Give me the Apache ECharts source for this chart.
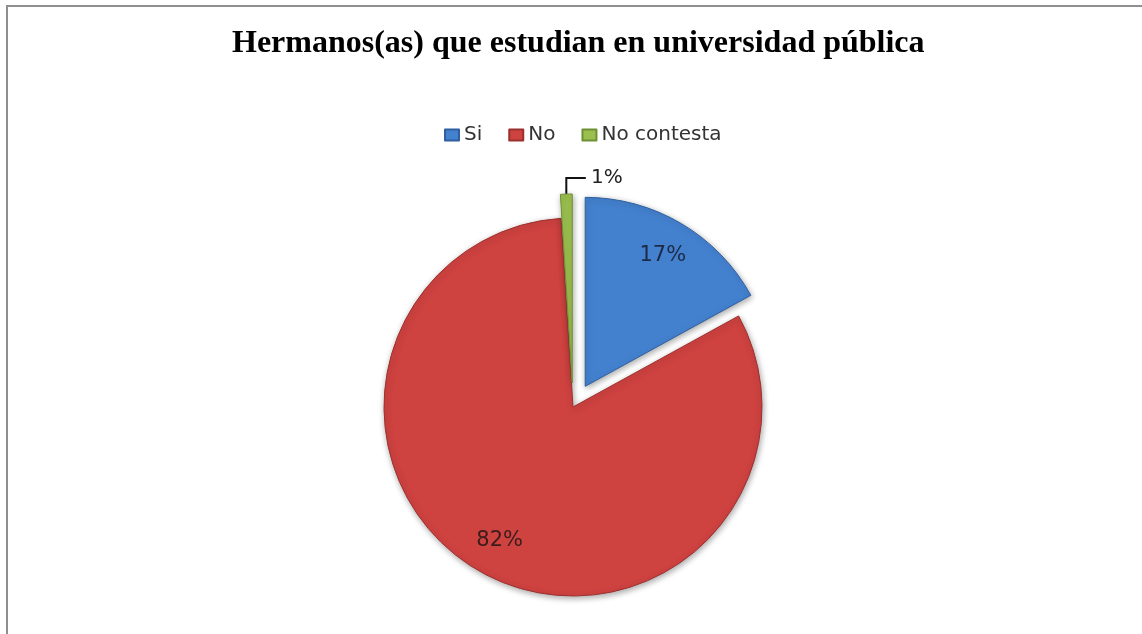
<!DOCTYPE html>
<html><head><meta charset="utf-8">
<script src="https://cdn.jsdelivr.net/npm/echarts@6/dist/echarts.min.js"></script>
<style>
html,body{margin:0;padding:0;background:#fff;}
#frame{position:absolute;left:6px;top:5px;width:1136px;height:629px;border-left:2px solid #8f8f8f;border-top:2px solid #8f8f8f;box-sizing:border-box;}
#chart{position:absolute;left:0;top:0;width:1142px;height:634px;}
</style></head><body>
<div id="frame"></div>
<div id="chart"></div>
<script>
const titleText = 'Hermanos(as) que estudian en universidad pública';
const categories = ['Si', 'No', 'No contesta'];
const values = [17, 82, 1];
const exploded = [true, false, true];
const baseColors = ['#4381CF', '#CE4240', '#9BBF4E'];
const rimColors = ['#2F5F9E', '#9C302E', '#6F8F35'];
const labelColors = ['#1c2a46', '#3a1c1c', '#222222'];

const chart = echarts.init(document.getElementById('chart'), null, { renderer: 'canvas' });
const R = 189;
const center = [573, 407];

const mainData = categories.map((c, i) => ({
  name: c, value: values[i], selected: exploded[i],
  itemStyle: { color: baseColors[i], borderColor: rimColors[i], borderWidth: 1 },
  label: i === 2 ? {
    show: true, position: 'outside', formatter: '{d}%',
    distanceToLabelLine: -37,
    color: labelColors[i], fontSize: 20, fontFamily: 'DejaVu Sans'
  } : { show: false },
  labelLine: i === 2 ? { show: true, length: 16, length2: -20, lineStyle: { color: '#111', width: 2 } } : { show: false }
}));

const labelData = categories.map((c, i) => ({
  name: c, value: values[i], selected: exploded[i],
  itemStyle: { color: 'rgba(0,0,0,0)', borderWidth: 0 },
  label: i === 2 ? { show: false } : {
    show: true, position: 'inside', formatter: '{d}%',
    color: labelColors[i], fontSize: 21, fontFamily: 'DejaVu Sans'
  }
}));

chart.setOption({
  animation: false,
  title: {
    text: titleText, left: 227, top: 23,
    textStyle: { fontFamily: 'Liberation Serif', fontWeight: 'bold', fontSize: 32, color: '#000' }
  },
  legend: {
    data: categories, top: 120, left: 439, icon: 'rect',
    itemWidth: 14, itemHeight: 11, itemGap: 26,
    textStyle: { fontFamily: 'DejaVu Sans', fontSize: 20, color: '#333' }
  },
  series: [
    {
      type: 'pie', name: 'main', center: center, radius: [0, R],
      startAngle: 90, clockwise: true, selectedMode: 'multiple', selectedOffset: 24,
      avoidLabelOverlap: false, silent: true,
      itemStyle: { shadowBlur: 6, shadowColor: 'rgba(0,0,0,0.35)', shadowOffsetX: 1, shadowOffsetY: 2 },
      data: mainData
    },
    {
      type: 'pie', name: 'labels', center: center, radius: [R * 0.58, R],
      startAngle: 90, clockwise: true, selectedMode: 'multiple', selectedOffset: 24,
      silent: true, avoidLabelOverlap: false,
      labelLine: { show: false },
      data: labelData
    }
  ]
});
</script>
</body></html>
